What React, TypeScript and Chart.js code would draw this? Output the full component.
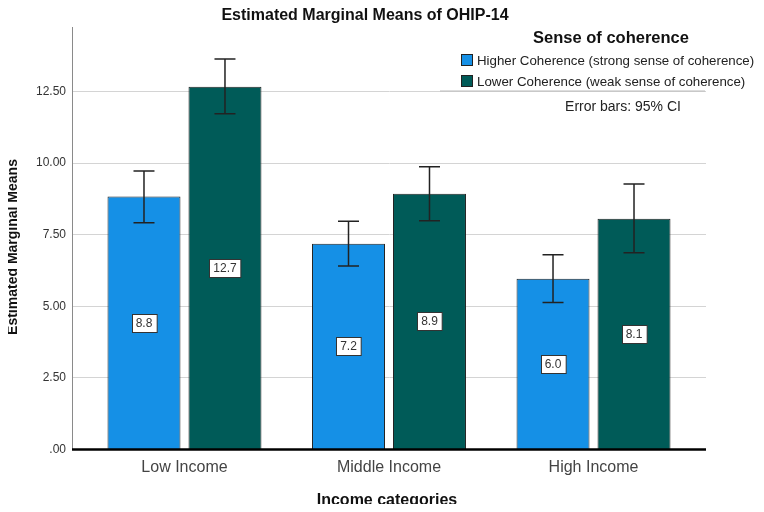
import React, { useEffect, useRef } from "react";
import { Chart, registerables } from "chart.js";

Chart.register(...registerables);

const FONT = "'Liberation Sans', Arial, Helvetica, sans-serif";

const chartTitle = "Estimated Marginal Means of OHIP-14";
const xTitle = "Income categories";
const yTitle = "Estimated Marginal Means";
const legendTitle = "Sense of coherence";
const errorNote = "Error bars: 95% CI";

const categories = ["Low Income", "Middle Income", "High Income"];
const seriesNames = [
  "Higher Coherence (strong sense of coherence)",
  "Lower Coherence (weak sense of coherence)",
];
const seriesColors = ["#1590e6", "#005b58"];

const higherMeans = [8.83, 7.18, 5.96];
const higherCILow = [7.92, 6.41, 5.13];
const higherCIHigh = [9.72, 7.97, 6.8];

const lowerMeans = [12.66, 8.93, 8.06];
const lowerCILow = [11.72, 7.99, 6.87];
const lowerCIHigh = [13.63, 9.87, 9.27];

const yTicks = [0, 2.5, 5, 7.5, 10, 12.5];

const ciLows = [higherCILow, lowerCILow];
const ciHighs = [higherCIHigh, lowerCIHigh];

const overlayPlugin = {
  id: "overlay",
  afterDatasetsDraw(chart: any) {
    const ctx = chart.ctx;
    const y = chart.scales.y;
    const area = chart.chartArea;
    // error bars
    chart.data.datasets.forEach((ds: any, di: number) => {
      const meta = chart.getDatasetMeta(di);
      meta.data.forEach((bar: any, i: number) => {
        const x = bar.x;
        const yl = y.getPixelForValue(ciLows[di][i]);
        const yh = y.getPixelForValue(ciHighs[di][i]);
        ctx.save();
        ctx.strokeStyle = "#222";
        ctx.lineWidth = 1.5;
        ctx.beginPath();
        ctx.moveTo(x, yl);
        ctx.lineTo(x, yh);
        ctx.moveTo(x - 10.5, yl);
        ctx.lineTo(x + 10.5, yl);
        ctx.moveTo(x - 10.5, yh);
        ctx.lineTo(x + 10.5, yh);
        ctx.stroke();
        ctx.restore();
      });
    });
    // value labels
    chart.data.datasets.forEach((ds: any, di: number) => {
      const meta = chart.getDatasetMeta(di);
      meta.data.forEach((bar: any, i: number) => {
        const v = ds.data[i].y;
        const text = v.toFixed(1);
        ctx.save();
        ctx.font = `12px ${FONT}`;
        const w = ctx.measureText(text).width + 8;
        const h = 18;
        const cx = bar.x;
        const cy = (bar.y + bar.base) / 2;
        const bx = Math.round(cx - w / 2) + 0.5;
        const by = Math.round(cy - h / 2) + 0.5;
        ctx.fillStyle = "#fff";
        ctx.fillRect(bx, by, w, h);
        ctx.strokeStyle = "#333";
        ctx.lineWidth = 1;
        ctx.strokeRect(bx, by, w, h);
        ctx.fillStyle = "#333";
        ctx.textAlign = "center";
        ctx.textBaseline = "middle";
        ctx.fillText(text, cx, by + h / 2 + 0.5);
        ctx.restore();
      });
    });
    // baseline
    const y0 = y.getPixelForValue(0);
    ctx.save();
    ctx.strokeStyle = "#000";
    ctx.lineWidth = 2.5;
    ctx.beginPath();
    ctx.moveTo(area.left, y0);
    ctx.lineTo(area.right, y0);
    ctx.stroke();
    ctx.restore();
  },
  afterDraw(chart: any) {
    const ctx = chart.ctx;
    ctx.save();
    // main title
    ctx.fillStyle = "#111";
    ctx.font = `bold 16px ${FONT}`;
    ctx.textAlign = "center";
    ctx.textBaseline = "middle";
    ctx.fillText(chartTitle, 357, 7.5);
    // x title
    ctx.font = `bold 16px ${FONT}`;
    ctx.fillText(xTitle, 379, 493);
    // y title
    ctx.save();
    ctx.translate(5, 239);
    ctx.rotate(-Math.PI / 2);
    ctx.font = `bold 14px ${FONT}`;
    ctx.fillText(yTitle, 0, 0);
    ctx.restore();
    // legend
    ctx.font = `bold 16.5px ${FONT}`;
    ctx.fillText(legendTitle, 603, 30);
    ctx.textAlign = "left";
    ctx.font = `13.3px ${FONT}`;
    seriesNames.forEach((name, i) => {
      const by = 46 + i * 21;
      ctx.fillStyle = seriesColors[i];
      ctx.fillRect(453.5, by + 0.5, 11, 11);
      ctx.strokeStyle = "#222";
      ctx.lineWidth = 1;
      ctx.strokeRect(453.5, by + 0.5, 11, 11);
      ctx.fillStyle = "#222";
      ctx.fillText(name, 469, by + 7);
    });
    ctx.strokeStyle = "#bbb";
    ctx.lineWidth = 1;
    ctx.beginPath();
    ctx.moveTo(432, 83);
    ctx.lineTo(697, 83);
    ctx.stroke();
    ctx.fillStyle = "#222";
    ctx.textAlign = "center";
    ctx.font = `14px ${FONT}`;
    ctx.fillText(errorNote, 615, 99);
    ctx.restore();
  },
};

export default function App() {
  const ref = useRef<HTMLCanvasElement | null>(null);

  useEffect(() => {
    if (!ref.current) return;
    const makeData = (vals: number[]) => vals.map((v, i) => ({ x: i, y: v }));
    const chart = new Chart(ref.current, {
      type: "bar",
      data: {
        datasets: [
          {
            label: seriesNames[0],
            data: makeData(higherMeans),
            backgroundColor: seriesColors[0],
            borderColor: "#222",
            borderWidth: 1,
            categoryPercentage: 0.792,
            barPercentage: 0.901,
          },
          {
            label: seriesNames[1],
            data: makeData(lowerMeans),
            backgroundColor: seriesColors[1],
            borderColor: "#222",
            borderWidth: 1,
            categoryPercentage: 0.792,
            barPercentage: 0.901,
          },
        ] as any,
      },
      options: {
        animation: false,
        responsive: false,
        layout: { padding: { top: 19, right: 50, left: 0, bottom: 0 } },
        plugins: {
          legend: { display: false },
          title: { display: false },
          tooltip: { enabled: false },
        },
        scales: {
          x: {
            type: "linear",
            min: -0.55,
            max: 2.55,
            offset: false,
            z: 1,
            afterFit: (s: any) => {
              s.height = 54.5;
            },
            afterBuildTicks: (s: any) => {
              s.ticks = categories.map((_, i) => ({ value: i }));
            },
            grid: { display: false, drawTicks: false },
            border: { display: false },
            ticks: {
              padding: 8,
              color: "#444",
              font: { family: FONT, size: 16 },
              callback: (v: any) => categories[Math.round(Number(v))] ?? "",
            },
          },
          y: {
            min: 0,
            max: 14.75,
            afterFit: (s: any) => {
              s.width = 64;
            },
            afterBuildTicks: (s: any) => {
              s.ticks = yTicks.map((v) => ({ value: v }));
            },
            grid: { color: "#d4d4d4", lineWidth: 1, drawTicks: false },
            border: { display: true, color: "#8a8a8a", width: 1 },
            ticks: {
              padding: 6,
              color: "#333",
              font: { family: FONT, size: 12 },
              callback: (v: any) => (Number(v) === 0 ? ".00" : Number(v).toFixed(2)),
            },
          },
        },
      } as any,
      plugins: [overlayPlugin],
    });
    return () => chart.destroy();
  }, []);

  return (
    <canvas
      ref={ref}
      width={748}
      height={496}
      style={{ display: "block", width: 748, height: 496 }}
    />
  );
}
